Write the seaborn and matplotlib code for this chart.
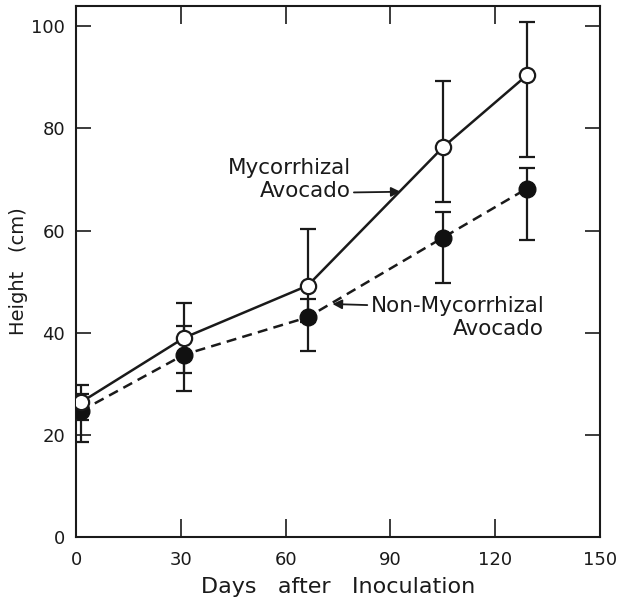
"""
Height of mycorrhizal vs non-mycorrhizal avocado seedlings after inoculation.
"""

import pandas as pd
import matplotlib
matplotlib.use("Agg")
import matplotlib.pyplot as plt
import seaborn as sns

# Values
days = [1.3, 31, 66.3, 105, 129]

myco_height = [26.3, 39.0, 49.2, 76.3, 90.4]
myco_upper = [29.8, 45.8, 60.3, 89.3, 100.9]
myco_lower = [22.8, 32.0, 42.0, 65.6, 74.5]

nonmyco_height = [24.6, 35.7, 43.0, 58.6, 68.2]
nonmyco_upper = [28.0, 41.2, 46.5, 63.7, 72.2]
nonmyco_lower = [18.5, 28.5, 36.3, 49.7, 58.1]

x_ticks = [0, 30, 60, 90, 120, 150]
y_ticks = [0, 20, 40, 60, 80, 100]

df = pd.DataFrame({
    "days": days + days,
    "height": myco_height + nonmyco_height,
    "group": ["Mycorrhizal"] * len(days) + ["Non-Mycorrhizal"] * len(days),
})

sns.set_style("ticks")
plt.rcParams["font.family"] = ["DejaVu Sans"]

fig = plt.figure(figsize=(6.18, 6.01), dpi=100)
ax = fig.add_axes([0.123, 0.107, 0.848, 0.883])

# error bars
for h, lo, hi in [(myco_height, myco_lower, myco_upper),
                  (nonmyco_height, nonmyco_lower, nonmyco_upper)]:
    yerr = [[a - b for a, b in zip(h, lo)], [b - a for a, b in zip(h, hi)]]
    ax.errorbar(days, h, yerr=yerr, fmt="none", ecolor="#1a1a1a",
                elinewidth=1.6, capsize=6, capthick=1.6, zorder=2)

sns.lineplot(data=df, x="days", y="height", hue="group", style="group",
             palette={"Mycorrhizal": "#1a1a1a", "Non-Mycorrhizal": "#1a1a1a"},
             dashes={"Mycorrhizal": "", "Non-Mycorrhizal": (4, 2.5)},
             linewidth=1.8, legend=False, ax=ax, zorder=3)

# markers: open for mycorrhizal, filled for non-mycorrhizal
ax.plot(days, nonmyco_height, "o", ms=12, mfc="#111111", mec="#111111", zorder=4)
ax.plot(days, myco_height, "o", ms=11, mfc="white", mec="#1a1a1a", mew=1.6, zorder=5)

ax.set_xlim(0, 150)
ax.set_ylim(0, 104)
ax.set_xticks(x_ticks)
ax.set_yticks(y_ticks)
ax.tick_params(axis="x", direction="in", length=13, width=1.2, top=True,
               labelsize=13, pad=10, colors="#1a1a1a")
ax.tick_params(axis="y", direction="in", length=11, width=1.2, right=True,
               labelsize=13, pad=8, colors="#1a1a1a")
for s in ax.spines.values():
    s.set_linewidth(1.5)
    s.set_color("#1a1a1a")

ax.set_xlabel("Days   after   Inoculation", fontsize=16, labelpad=6, color="#1a1a1a")
ax.set_ylabel("Height   (cm)", fontsize=14, labelpad=2, color="#1a1a1a")

# annotations
ax.annotate("Mycorrhizal\nAvocado", xy=(92.9, 67.6), xytext=(78.6, 70.0),
            ha="right", va="center", fontsize=15.5, color="#1a1a1a",
            linespacing=1.2,
            arrowprops=dict(arrowstyle="-|>", color="#1a1a1a", lw=1.3,
                            shrinkA=0, shrinkB=0, mutation_scale=14,
                            relpos=(1.0, 0.2)))
ax.annotate("Non-Mycorrhizal\nAvocado", xy=(73.4, 45.6), xytext=(84.3, 43.0),
            ha="left", va="center", fontsize=15.5, color="#1a1a1a",
            linespacing=1.2, multialignment="right",
            arrowprops=dict(arrowstyle="-|>", color="#1a1a1a", lw=1.3,
                            shrinkA=0, shrinkB=0, mutation_scale=14,
                            relpos=(0.0, 0.78)))

fig.savefig("out.png", dpi=100)
